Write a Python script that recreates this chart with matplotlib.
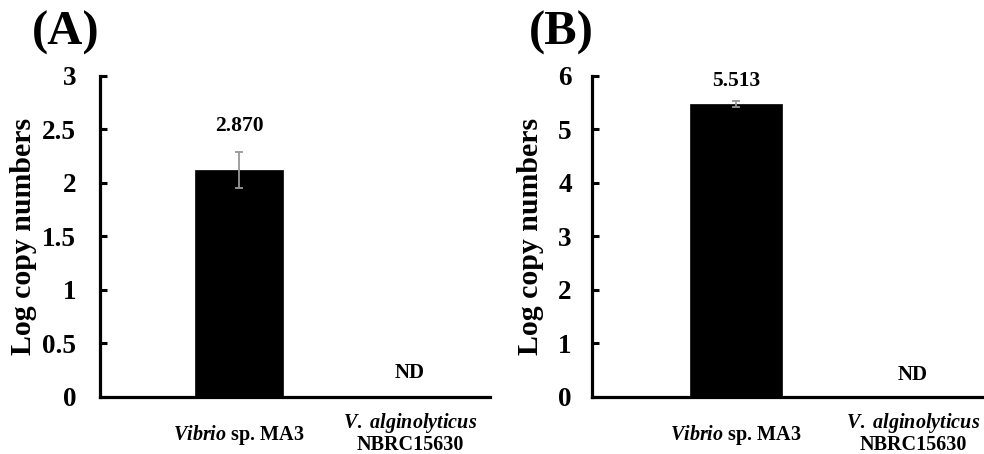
import matplotlib
matplotlib.use("Agg")
import matplotlib.pyplot as plt

# ---- data ----
categories = ["Vibrio sp. MA3", "V. alginolyticus NBRC15630"]
panel_labels = ["(A)", "(B)"]
values_A = [2.12, 0.0]
errors_A = [0.17, 0.0]
annot_A = ["2.870", "ND"]
values_B = [5.48, 0.0]
errors_B = [0.06, 0.0]
annot_B = ["5.513", "ND"]
yticks_A = [0, 0.5, 1, 1.5, 2, 2.5, 3]
ytick_labels_A = ["0", "0.5", "1", "1.5", "2", "2.5", "3"]
yticks_B = [0, 1, 2, 3, 4, 5, 6]
ytick_labels_B = ["0", "1", "2", "3", "4", "5", "6"]
ylabel = "Log copy numbers"

plt.rcParams["font.family"] = ["Liberation Serif", "DejaVu Serif"]
plt.rcParams["font.weight"] = "bold"
plt.rcParams["mathtext.fontset"] = "custom"
plt.rcParams["mathtext.it"] = "Liberation Serif:italic:bold"
plt.rcParams["mathtext.rm"] = "Liberation Serif:bold"
plt.rcParams["mathtext.bf"] = "Liberation Serif:bold"

fig = plt.figure(figsize=(9.84, 4.54), dpi=100)

panels = [
    dict(rect=[0.1016, 0.1256, 0.3963, 0.707], vals=values_A, errs=errors_A,
         annots=annot_A, ticks=yticks_A, labels=ytick_labels_A, ylim=(0, 3),
         xlim=(-0.813, 1.468), label_off=18.5, nd_off=17.3, pad=17,
         ylab_x=-0.195, title=panel_labels[0],
         title_xy=(66 / 984, 1 - 33 / 454)),
    dict(rect=[0.6016, 0.1256, 0.398, 0.707], vals=values_B, errs=errors_B,
         annots=annot_B, ticks=yticks_B, labels=ytick_labels_B, ylim=(0, 6),
         xlim=(-0.814, 1.40), label_off=14, nd_off=15.8, pad=14.5,
         ylab_x=-0.156, title=panel_labels[1],
         title_xy=(561 / 984, 1 - 33 / 454)),
]

cat_line1 = [r"$\mathit{Vibrio}$ sp. MA3", r"$\mathit{V.}$ $\mathit{alginolyticus}$"]
cat_line2 = ["", "NBRC15630"]

x = [0, 1]
for p in panels:
    ax = fig.add_axes(p["rect"])
    ax.bar(x, p["vals"], width=0.515, color="black", edgecolor="black",
           linewidth=0.5, zorder=2)
    ax.errorbar(x[:1], p["vals"][:1], yerr=p["errs"][:1], fmt="none",
                ecolor="#999999", elinewidth=1.3, capsize=3, capthick=1.3,
                zorder=3)
    ax.set_xlim(*p["xlim"])
    ax.set_ylim(*p["ylim"])
    ax.set_yticks(p["ticks"])
    ax.set_yticklabels(p["labels"], fontsize=19.5, fontweight="bold")
    ax.set_xticks([])
    for s in ["top", "right"]:
        ax.spines[s].set_visible(False)
    for s in ["left", "bottom"]:
        ax.spines[s].set_linewidth(2.3)
    ax.tick_params(axis="y", direction="in", length=5, width=2.2,
                   pad=p["pad"])
    ax.set_ylabel(ylabel, fontsize=21.5, fontweight="bold", va="center")
    ax.yaxis.set_label_coords(p["ylab_x"], 0.5)
    # annotation above bar
    ax.annotate(p["annots"][0], xy=(x[0], p["vals"][0] + p["errs"][0]),
                xytext=(0, p["label_off"]), textcoords="offset points",
                ha="center", va="center", fontsize=15.5, fontweight="bold")
    ax.annotate(p["annots"][1], xy=(x[1], 0), xytext=(0, p["nd_off"]),
                textcoords="offset points", ha="center", va="center",
                fontsize=15, fontweight="bold")
    # category labels
    ax.annotate(cat_line1[0], xy=(x[0], 0),
                xycoords=("data", "axes fraction"), xytext=(0, -31),
                textcoords="offset points", ha="center", va="baseline",
                fontsize=14.5, fontweight="bold")
    ax.annotate(cat_line1[1], xy=(x[1], 0),
                xycoords=("data", "axes fraction"), xytext=(0, -22.3),
                textcoords="offset points", ha="center", va="baseline",
                fontsize=14.5, fontweight="bold")
    ax.annotate(cat_line2[1], xy=(x[1], 0),
                xycoords=("data", "axes fraction"), xytext=(0, -38.5),
                textcoords="offset points", ha="center", va="baseline",
                fontsize=14.5, fontweight="bold")
    fig.text(p["title_xy"][0], p["title_xy"][1], p["title"], ha="center",
             va="center", fontsize=35, fontweight="bold")

fig.savefig("out.png", dpi=100)
